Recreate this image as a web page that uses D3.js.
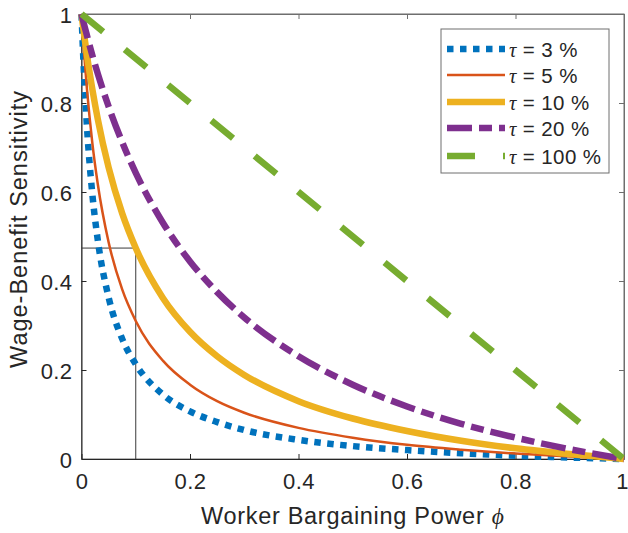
<!DOCTYPE html>
<html>
<head>
<meta charset="utf-8">
<script src="https://cdn.jsdelivr.net/npm/d3@7"></script>
<style>
  html, body { margin: 0; padding: 0; background: #fff; }
  svg { display: block; }
  text { font-family: "Liberation Sans", Arial, Helvetica, sans-serif; fill: #262626; }
</style>
</head>
<body>
<svg id="chart" width="628" height="533"></svg>
<script>
// Worker bargaining power (phi) sample points
const phi = [0, 0.005, 0.01, 0.02, 0.03, 0.05, 0.075, 0.1, 0.15, 0.2, 0.25, 0.3, 0.4, 0.5, 0.6, 0.7, 0.8, 0.9, 1];

// Wage-benefit sensitivity for each tau
const tau3   = [1, 0.857, 0.748, 0.595, 0.492, 0.363, 0.270, 0.213, 0.145, 0.107, 0.083, 0.065, 0.043, 0.029, 0.020, 0.013, 0.0074, 0.0033, 0];
const tau5   = [1, 0.909, 0.832, 0.710, 0.618, 0.487, 0.381, 0.310, 0.221, 0.167, 0.130, 0.104, 0.070, 0.048, 0.032, 0.021, 0.0123, 0.0055, 0];
const tau10  = [1, 0.952, 0.908, 0.831, 0.764, 0.655, 0.552, 0.474, 0.362, 0.286, 0.231, 0.189, 0.130, 0.091, 0.063, 0.041, 0.024, 0.011, 0];
const tau20  = [1, 0.975, 0.952, 0.907, 0.866, 0.792, 0.712, 0.643, 0.531, 0.444, 0.375, 0.318, 0.231, 0.167, 0.118, 0.079, 0.048, 0.022, 0];
const phi100 = [0, 1];
const tau100 = [1, 0];

const legendLabels = ["3", "5", "10", "20", "100"];
const xTicks = [0, 0.2, 0.4, 0.6, 0.8, 1];
const yTicks = [0, 0.2, 0.4, 0.6, 0.8, 1];

// Reference marker: tau = 10 % at phi = 0.1
const markPhi = 0.1;
const markVal = 0.474;

const svg = d3.select("#chart");
const L = 81.5, R = 624, T = 14, B = 459;

const x = d3.scaleLinear().domain([0, 1]).range([L, R]);
const y = d3.scaleLinear().domain([0, 1]).range([B, T]);

const axisColor = "#262626";
const fmt = d => d === 0 ? "0" : d === 1 ? "1" : d3.format(".1f")(d);

// Box
svg.append("rect")
  .attr("x", L).attr("y", T).attr("width", R - L).attr("height", B - T)
  .attr("fill", "none").attr("stroke", "#6e6e6e").attr("stroke-width", 1);

// Axes with inward ticks
const gx = svg.append("g").attr("transform", `translate(0,${B})`)
  .call(d3.axisBottom(x).tickValues(xTicks).tickFormat(fmt).tickSizeInner(-5).tickSizeOuter(0).tickPadding(14));
const gy = svg.append("g").attr("transform", `translate(${L},0)`)
  .call(d3.axisLeft(y).tickValues(yTicks).tickFormat(fmt).tickSizeInner(-5).tickSizeOuter(0).tickPadding(9));
const gxt = svg.append("g").attr("transform", `translate(0,${T})`)
  .call(d3.axisTop(x).tickValues(xTicks).tickFormat("").tickSizeInner(-5).tickSizeOuter(0));
const gyr = svg.append("g").attr("transform", `translate(${R},0)`)
  .call(d3.axisRight(y).tickValues(yTicks).tickFormat("").tickSizeInner(-5).tickSizeOuter(0));

[gx, gy].forEach(g => {
  g.select(".domain").attr("stroke", axisColor);
  g.selectAll(".tick line").attr("stroke", axisColor);
  g.selectAll(".tick text").attr("font-size", 22).attr("fill", axisColor)
    .attr("letter-spacing", 0.4)
    .style("font-family", "'Liberation Sans', Arial, sans-serif");
});
gy.selectAll(".tick text").attr("dy", "0.4em");
gx.selectAll(".tick").filter(d => d === 1).select("text").attr("dx", -2);
[gxt, gyr].forEach(g => {
  g.select(".domain").attr("stroke", "#6e6e6e");
  g.selectAll(".tick line").attr("stroke", "#6e6e6e");
});

// Axis titles
const xTitle = svg.append("text")
  .attr("x", (L + R) / 2).attr("y", 524)
  .attr("text-anchor", "middle").attr("font-size", 23.5).attr("letter-spacing", 0.7);
xTitle.append("tspan").text("Worker Bargaining Power ");
xTitle.append("tspan").attr("font-family", "'Liberation Serif', 'Times New Roman', serif")
  .attr("font-style", "italic").text("\u03D5");

svg.append("text")
  .attr("transform", `translate(27,229) rotate(-90)`)
  .attr("text-anchor", "middle").attr("font-size", 23.5).attr("letter-spacing", 1.0)
  .text("Wage-Benefit Sensitivity");

// Marker lines for tau = 10 %, phi = 0.1
svg.append("path")
  .attr("d", d3.line()([[x(0), y(markVal)], [x(markPhi), y(markVal)], [x(markPhi), y(0)]]))
  .attr("fill", "none").attr("stroke", "#3a3a3a").attr("stroke-width", 1);

// Series
const series = [
  { xs: phi, ys: tau3, color: "#0072BD", width: 6.5, dash: "6.5,6.5" },
  { xs: phi, ys: tau5, color: "#D95319", width: 2.5, dash: null },
  { xs: phi, ys: tau10, color: "#EDB120", width: 6.5, dash: null },
  { xs: phi, ys: tau20, color: "#7E2F8E", width: 6.5, dash: "25,7,13,7" },
  { xs: phi100, ys: tau100, color: "#77AC30", width: 6.5, dash: "28,28" }
];

const line = d3.line().x(d => x(d[0])).y(d => y(d[1])).curve(d3.curveMonotoneX);

series.forEach(s => {
  const pts = s.xs.map((v, i) => [v, s.ys[i]]);
  svg.append("path")
    .attr("d", line(pts))
    .attr("fill", "none")
    .attr("stroke", s.color)
    .attr("stroke-width", s.width)
    .attr("stroke-dasharray", s.dash)
    .attr("stroke-linejoin", "round");
});

// Legend
const lg = svg.append("g");
lg.append("rect")
  .attr("x", 441).attr("y", 29).attr("width", 168).attr("height", 144)
  .attr("fill", "#fff").attr("stroke", "#6e6e6e").attr("stroke-width", 1);

const rowY = [49, 75, 102, 128, 156];
series.forEach((s, i) => {
  lg.append("line")
    .attr("x1", 447).attr("x2", 505)
    .attr("y1", rowY[i]).attr("y2", rowY[i])
    .attr("stroke", s.color).attr("stroke-width", s.width)
    .attr("stroke-dasharray", s.dash);
  const t = lg.append("text")
    .attr("x", 509).attr("y", rowY[i] + 7.5)
    .attr("font-size", 20.5).attr("letter-spacing", 0.4);
  t.append("tspan").attr("font-family", "'Liberation Serif', 'Times New Roman', serif")
    .attr("font-style", "italic").text("\u03C4");
  t.append("tspan").text(" = " + legendLabels[i] + " %");
});
</script>
</body>
</html>
